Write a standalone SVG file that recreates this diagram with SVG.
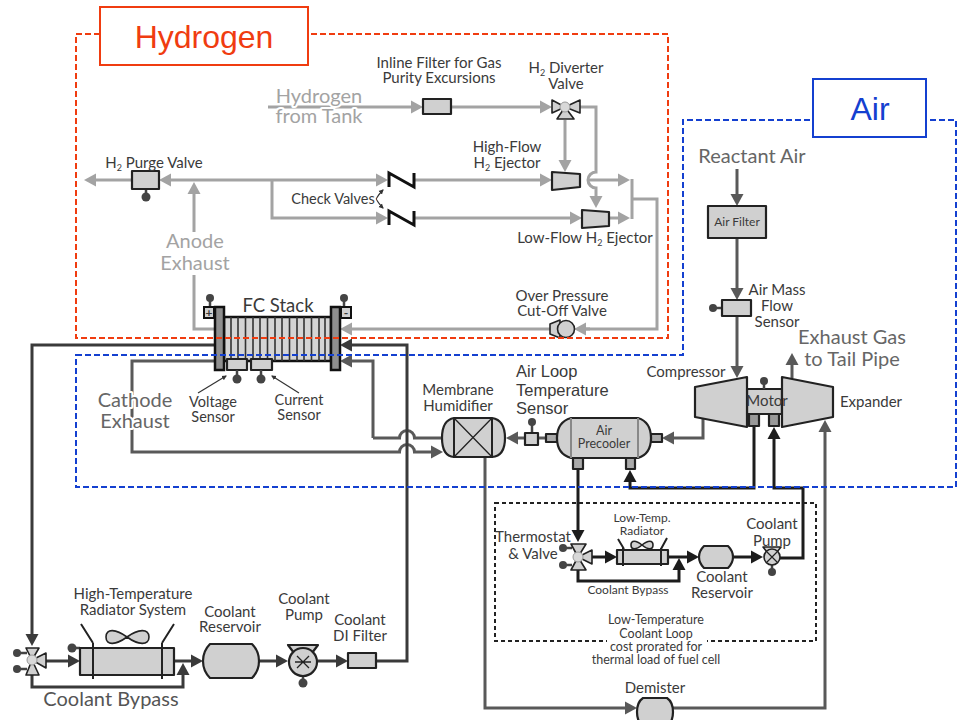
<svg xmlns="http://www.w3.org/2000/svg" width="961" height="720" viewBox="0 0 961 720">
<style>
text{font-family:"Lato","Open Sans",sans-serif;fill:#3a3a3a;font-size:15px;text-anchor:middle}
.big{font-size:20px;fill:#666}
.h2{fill:#a3a3a3}
.halo{paint-order:stroke;stroke:#fff;stroke-width:4px;stroke-linejoin:round}
.ar{font-family:"Liberation Sans",Arial,sans-serif}
.title{font-family:"Liberation Sans",Arial,sans-serif;font-size:32px}
.sm{font-size:12px}
.c{fill:none;stroke-linejoin:miter}
.g{stroke:#a3a3a3;stroke-width:3}
.a{stroke:#595959;stroke-width:3}
.k{stroke:#3a3a3a;stroke-width:3}
.b{stroke:#1c1c1c;stroke-width:3}
.n{fill:#d0d0d0;stroke:#222;stroke-width:2.2;stroke-linejoin:round}
.v{fill:#d0d0d0;stroke:#222;stroke-width:1.6;stroke-linejoin:round}
.vc{fill:#d8d8d8;stroke:#999;stroke-width:1}
.p{fill:#8f8f8f;stroke:#111;stroke-width:2.5}
.l{fill:none;stroke:#222;stroke-width:2}
.kn{fill:#444;stroke:none}
.st{stroke:#444;stroke-width:2.5}
</style>
<defs>
<marker id="mg" markerUnits="userSpaceOnUse" markerWidth="14" markerHeight="14" refX="8" refY="7" orient="auto"><path d="M0 0.5L12 7L0 13.5Z" fill="#a3a3a3"/></marker>
<marker id="ma" markerUnits="userSpaceOnUse" markerWidth="14" markerHeight="14" refX="8" refY="7" orient="auto"><path d="M0 0.5L12 7L0 13.5Z" fill="#595959"/></marker>
<marker id="mk" markerUnits="userSpaceOnUse" markerWidth="14" markerHeight="14" refX="8" refY="7" orient="auto"><path d="M0 0.5L12 7L0 13.5Z" fill="#3a3a3a"/></marker>
<marker id="mb" markerUnits="userSpaceOnUse" markerWidth="14" markerHeight="14" refX="8" refY="7" orient="auto"><path d="M0 0.5L12 7L0 13.5Z" fill="#1c1c1c"/></marker>
<marker id="ms" markerUnits="userSpaceOnUse" markerWidth="6" markerHeight="6" refX="4" refY="3" orient="auto"><path d="M0 0.5L5 3L0 5.5Z" fill="#333"/></marker>
</defs>

<g id="connectors">
<!-- hydrogen -->
<path class="c g" d="M268 107H419" marker-end="url(#mg)"/>
<path class="c g" d="M451 107H548" marker-end="url(#mg)"/>
<path class="c g" d="M580 107H596V172A8 8 0 0 0 596 188V204" marker-end="url(#mg)"/>
<path class="c g" d="M565 120V168" marker-end="url(#mg)"/>
<path class="c g" d="M588 180H626" marker-end="url(#mg)"/>
<path class="c g" d="M609 218H626" marker-end="url(#mg)"/>
<path class="c g" d="M632 179V219M632 199H657V329H578"/>
<path class="c g" d="M590 329H578" marker-end="url(#mg)"/>
<path class="c g" d="M550 329H344" marker-end="url(#mg)"/>
<path class="c g" d="M132 180H88" marker-end="url(#mg)"/>
<path class="c g" d="M272 180H163" marker-end="url(#mg)"/>
<path class="c g" d="M272 180H384" marker-end="url(#mg)"/>
<path class="c g" d="M194 232V186" marker-end="url(#mg)"/>
<path class="c g" d="M194 275V329H214"/>
<path class="c g" d="M272 180V218H384" marker-end="url(#mg)"/>
<path class="c g" d="M414 180H548" marker-end="url(#mg)"/>
<path class="c g" d="M414 218H578" marker-end="url(#mg)"/>
<!-- cathode / air -->
<path class="c a" d="M214 361H132V452H399.500A7.500 7.500 0 0 1 414.500 452H439" marker-end="url(#ma)"/>
<path class="c a" d="M373 438V361H344" marker-end="url(#ma)"/>
<path class="c a" d="M442 438H414.500A7.500 7.500 0 0 0 399.500 438H373"/>
<path class="c a" d="M737 169V202" marker-end="url(#ma)"/>
<path class="c a" d="M737 238V296" marker-end="url(#ma)"/>
<path class="c a" d="M737 316V374" marker-end="url(#ma)"/>
<path class="c a" d="M792 378V357" marker-end="url(#ma)"/>
<path class="c a" d="M703 419V438H666" marker-end="url(#ma)"/>
<path class="c a" d="M525 438H510" marker-end="url(#ma)"/>
<path class="c a" d="M538 438H546"/>
<path class="c a" d="M485 457V708H633" marker-end="url(#ma)"/>
<path class="c a" d="M673 708H825V424" marker-end="url(#ma)"/>
<!-- high-temp coolant -->
<path class="c k" d="M214 345H32V642" marker-end="url(#mk)"/>
<path class="c k" d="M376 661H407V345H344" marker-end="url(#mk)"/>
<path class="c k" d="M46 661H76" marker-end="url(#mk)"/>
<path class="c k" d="M174 661H199" marker-end="url(#mk)"/>
<path class="c k" d="M259 661H284" marker-end="url(#mk)"/>
<path class="c k" d="M318 661H344" marker-end="url(#mk)"/>
<path class="c k" d="M32 675V687H183V667" marker-end="url(#mk)"/>
<!-- low-temp coolant -->
<path class="c b" d="M578 469V538" marker-end="url(#mb)"/>
<path class="c b" d="M754 426V488H630V474" marker-end="url(#mb)"/>
<path class="c b" d="M780 558H803V488H774V431" marker-end="url(#mb)"/>
<path class="c b" d="M592 557H613" marker-end="url(#mb)"/>
<path class="c b" d="M668 557H695" marker-end="url(#mb)"/>
<path class="c b" d="M733 557H759" marker-end="url(#mb)"/>
<path class="c b" d="M578 570V581H679V562" marker-end="url(#mb)"/>
<!-- label leaders -->
<path d="M198 393L226 376" stroke="#333" stroke-width="1.200" fill="none" marker-end="url(#ms)"/>
<path d="M299 393L272 376" stroke="#333" stroke-width="1.200" fill="none" marker-end="url(#ms)"/>
<path d="M376 199Q379 194 383 190" stroke="#333" stroke-width="1.200" fill="none" marker-end="url(#ms)"/>
<path d="M376 199Q379 204 383 208" stroke="#333" stroke-width="1.200" fill="none" marker-end="url(#ms)"/>
</g>

<g id="hydrogen-labels">
<text class="big h2 halo" x="319" y="103">Hydrogen</text>
<text class="big h2 halo" x="319" y="123">from Tank</text>
<text class="big h2" x="195" y="248">Anode</text>
<text class="big h2" x="195" y="270">Exhaust</text>
<text class="halo" style="font-size:14.500px" x="333" y="204">Check Valves</text>
</g>

<g id="filter-inline"><rect class="n" x="423" y="99" width="28" height="15"/>
<text x="439" y="68">Inline Filter for Gas</text><text x="439" y="83">Purity Excursions</text></g>

<g id="h2-diverter-valve">
<path class="v" d="M552 100L565 107L552 113ZM580 100L565 107L580 113ZM565 107L574 119H557Z"/><circle class="vc" cx="565" cy="107" r="5"/>
<text x="566" y="73">H<tspan dy="3" font-size="9">2</tspan><tspan dy="-3"> Diverter</tspan></text><text x="566" y="89">Valve</text></g>

<g id="high-flow-ejector"><path class="n" d="M552 172L580 174V187L552 190Z"/>
<text x="507" y="152">High-Flow</text><text x="507" y="168">H<tspan dy="3" font-size="9">2</tspan><tspan dy="-3"> Ejector</tspan></text></g>

<g id="low-flow-ejector"><path class="n" d="M582 210L609 212V226L582 228Z"/>
<text x="585" y="243">Low-Flow H<tspan dy="3" font-size="9">2</tspan><tspan dy="-3"> Ejector</tspan></text></g>

<g id="check-valve-1"><path d="M414 173V187L389 173V187" fill="none" stroke="#111" stroke-width="3"/></g>
<g id="check-valve-2"><path d="M414 211V225L389 211V225" fill="none" stroke="#111" stroke-width="3"/></g>

<g id="h2-purge-valve"><path class="st" d="M146 189V196"/><circle class="kn" cx="146" cy="197" r="4.500"/><rect class="n" x="132" y="171" width="27" height="18"/>
<text x="154" y="168">H<tspan dy="3" font-size="9">2</tspan><tspan dy="-3"> Purge Valve</tspan></text></g>

<g id="over-pressure-valve"><path class="v" d="M550 324L560 320V338L550 334Z"/><circle class="v" cx="566" cy="329" r="8.500"/>
<text x="562" y="301">Over Pressure</text><text x="562" y="316">Cut-Off Valve</text></g>

<g id="fc-stack">
<path class="st" d="M210 298V307M344 298V307"/><circle class="kn" cx="210" cy="298" r="4"/><circle class="kn" cx="344" cy="298" r="4"/>
<rect x="204" y="307" width="10" height="11" fill="#d0d0d0" stroke="#111" stroke-width="2"/>
<rect x="341" y="307" width="10" height="11" fill="#d0d0d0" stroke="#111" stroke-width="2"/>
<text x="209" y="317" style="font-size:12px;font-weight:bold">+</text><text x="346" y="317" style="font-size:12px;font-weight:bold">-</text>
<rect x="224" y="317" width="107" height="44" fill="#d4d4d4" stroke="#111" stroke-width="2.500"/>
<path d="M231 317V361M238 317V361M245.500 317V361M253 317V361M260 317V361M267.500 317V361M275 317V361M282 317V361M289.500 317V361M297 317V361M304 317V361M311.500 317V361M319 317V361M325 317V361" stroke="#333" stroke-width="1.600"/>
<rect class="p" x="215" y="307" width="9" height="63"/>
<rect class="p" x="331" y="307" width="9" height="63"/>
<text x="278" y="312" style="font-size:18.500px">FC Stack</text>
</g>
<g id="voltage-sensor"><rect class="n" x="227" y="359" width="20" height="11"/><path class="st" d="M237 370V378"/><circle class="kn" cx="237" cy="379" r="4.500"/>
<text x="213" y="407" style="font-size:14.500px">Voltage</text><text x="213" y="422" style="font-size:14.500px">Sensor</text></g>
<g id="current-sensor"><rect class="n" x="251" y="359" width="21" height="11"/><path class="st" d="M261 370V378"/><circle class="kn" cx="261" cy="379" r="4.500"/>
<text x="299" y="405" style="font-size:14.500px">Current</text><text x="299" y="420" style="font-size:14.500px">Sensor</text></g>
<g id="cathode-exhaust"><text class="big halo" x="135" y="407">Cathode</text><text class="big halo" x="135" y="428">Exhaust</text></g>

<g id="membrane-humidifier"><path class="n" d="M454 418H492Q505 420 505 438Q505 456 492 457H454Q442 456 442 438Q442 420 454 418Z"/>
<path class="l" style="stroke-width:1.300" d="M454 418L492 457M492 418L454 457"/>
<path class="l" d="M454 418V457H492V418"/>
<text x="458" y="395">Membrane</text><text x="458" y="411">Humidifier</text></g>

<g id="air-temp-sensor"><path class="st" d="M532 423V433"/><circle class="kn" cx="532" cy="422" r="4"/><rect class="n" x="525" y="433" width="13" height="12"/>
<text class="ar" style="font-size:16.500px;text-anchor:start" x="516" y="377">Air Loop</text><text class="ar" style="font-size:16.500px;text-anchor:start" x="516" y="396">Temperature</text><text class="ar" style="font-size:16.500px;text-anchor:start" x="516" y="414">Sensor</text></g>

<g id="air-precooler">
<rect class="n" x="546" y="434" width="11" height="8" style="fill:#aaa"/><rect class="n" x="651" y="434" width="11" height="8" style="fill:#aaa"/>
<rect class="n" x="573" y="458" width="10" height="11" style="fill:#aaa"/><rect class="n" x="626" y="458" width="9" height="11" style="fill:#aaa"/>
<path class="n" d="M571 418H638Q651 422 651 438Q651 454 638 458H571Q557 454 557 438Q557 422 571 418Z"/>
<path d="M571 418V458M638 418V458" stroke="#888" stroke-width="2" fill="none"/>
<text class="sm" style="font-size:12.500px" x="604" y="435">Air</text><text class="sm" style="font-size:12.500px" x="604" y="448">Precooler</text></g>

<g id="air-filter"><rect class="n" x="708" y="206" width="58" height="32"/><text class="sm" x="737" y="226">Air Filter</text></g>
<g id="air-mass-flow-sensor"><path class="st" d="M713 308H722"/><circle class="kn" cx="713" cy="308" r="4"/><rect class="n" x="722" y="300" width="29" height="16"/>
<text x="777" y="295">Air Mass</text><text x="777" y="311">Flow</text><text x="777" y="327">Sensor</text></g>

<g id="motor-compressor">
<rect class="n" x="749" y="414" width="10" height="12" style="fill:#999"/><rect class="n" x="769" y="414" width="10" height="12" style="fill:#999"/>
<rect class="n" x="747" y="389" width="35" height="25"/>
<path class="st" d="M764 381V389"/><circle class="kn" cx="764" cy="381" r="4"/>
<path class="n" d="M695 387L747 377V427L695 417Z"/>
<path class="n" d="M782 377L833 387V417L782 427Z"/>
<text x="767" y="406">Motor</text>
<text x="686" y="377">Compressor</text><text x="871" y="407">Expander</text></g>

<g id="air-labels">
<text class="big" x="752" y="163">Reactant Air</text>
<text class="big" x="852" y="344">Exhaust Gas</text><text class="big" x="852" y="366">to Tail Pipe</text></g>

<g id="demister"><path class="n" d="M643 698H667Q673 702 673 712Q673 722 667 726H643Q637 722 637 712Q637 702 643 698Z"/><text x="655" y="693">Demister</text></g>

<g id="low-temp-loop">
<rect x="495" y="503" width="321" height="138" fill="none" stroke="#222" stroke-width="2" stroke-dasharray="4 3"/>
<rect x="607" y="636" width="100" height="10" fill="#fff"/>
<text x="656" y="624" style="font-size:12.500px">Low-Temperature</text><text x="656" y="638" style="font-size:12.500px">Coolant Loop</text><text x="656" y="651" style="font-size:12.500px">cost prorated for</text><text x="656" y="664" style="font-size:12.500px">thermal load of fuel cell</text>
</g>

<g id="thermostat-valve">
<path class="st" d="M563 548H572M563 565H572"/><circle class="kn" cx="563" cy="548" r="4"/><circle class="kn" cx="563" cy="565" r="4"/>
<path class="v" d="M571 544H586L578 557ZM571 570H586L578 557ZM592 550V564L578 557Z"/><circle class="vc" cx="578" cy="557" r="5"/>
<text x="533" y="542">Thermostat</text><text x="533" y="559">&amp; Valve</text></g>

<g id="low-temp-radiator">
<rect class="n" x="617" y="550" width="51" height="14"/>
<path class="l" d="M623 548V566M661 548V566M618 539L624 549M667 538L661 549"/>
<path class="v" d="M642 545C636 540 631 540 631 545C631 550 636 550 642 545C648 540 653 540 653 545C653 550 648 550 642 545Z"/>
<text class="sm" x="642" y="522">Low-Temp.</text><text class="sm" x="642" y="535">Radiator</text></g>

<g id="low-temp-reservoir"><path class="n" d="M704 546H728Q733 551 733 557Q733 563 728 568H704Q699 563 699 557Q699 551 704 546Z"/>
<text x="722" y="582">Coolant</text><text x="722" y="598">Reservoir</text></g>

<g id="low-temp-pump">
<path class="st" d="M772 565V572"/><circle class="kn" cx="772" cy="572" r="4"/>
<path class="v" d="M763 547H781L777 552H767Z"/>
<circle class="v" cx="772" cy="557" r="8"/><path class="l" d="M767 552L777 562M777 552L767 562" style="stroke-width:1.200"/>
<text x="772" y="529">Coolant</text><text x="772" y="546">Pump</text></g>
<text id="low-temp-bypass-label" class="sm" x="628" y="594">Coolant Bypass</text>

<g id="ht-valve">
<path class="st" d="M17 653H27M17 669H27"/><circle class="kn" cx="17" cy="653" r="4"/><circle class="kn" cx="17" cy="669" r="4"/>
<path class="v" d="M26 648H39L32 660ZM26 675H39L32 660ZM46 653V668L32 660Z"/><circle class="vc" cx="32" cy="660" r="5"/></g>

<g id="ht-radiator">
<path class="st" d="M72 648H80"/><circle class="kn" cx="72" cy="648" r="4.500"/>
<rect class="n" x="80" y="648" width="94" height="27"/>
<path class="l" d="M93 643V679M162 643V679M81 624L93 643M174 624L162 643"/>
<path class="v" d="M127 637C116 629 106 628 106 637C106 646 116 645 127 637C138 629 149 628 149 637C149 646 138 645 127 637Z"/>
<text x="133" y="599">High-Temperature</text><text x="133" y="615">Radiator System</text></g>

<g id="ht-reservoir"><path class="n" d="M210 644H252Q259 651 259 661Q259 671 252 678H210Q203 671 203 661Q203 651 210 644Z"/>
<text x="230" y="617">Coolant</text><text x="230" y="632">Reservoir</text></g>

<g id="ht-pump">
<path class="st" d="M303 676V683"/><circle class="kn" cx="303" cy="683" r="4.500"/>
<path class="n" d="M288 645H318L312 653H294Z"/>
<circle class="n" cx="303" cy="662" r="14"/><path class="l" d="M295 662H311M297 656L309 668M309 656L297 668" style="stroke-width:1.300"/>
<text x="304" y="604">Coolant</text><text x="304" y="620">Pump</text></g>

<g id="di-filter"><rect class="n" x="348" y="653" width="28" height="15"/>
<text x="360" y="625">Coolant</text><text x="360" y="641">DI Filter</text></g>

<text id="ht-bypass-label" class="big" style="fill:#555" x="111" y="706">Coolant Bypass</text>

<g id="hydrogen-zone">
<path d="M100 34H76V338H668V34H308" fill="none" stroke="#f03c10" stroke-width="2" stroke-dasharray="6 3"/>
<rect x="100" y="7" width="208" height="58" fill="#fff" stroke="#f03c10" stroke-width="2"/>
<text class="title" style="fill:#f03c10" x="204" y="48">Hydrogen</text>
</g>
<g id="air-zone">
<path d="M76 355H683V120H956V487H76Z" fill="none" stroke="#1440d0" stroke-width="2" stroke-dasharray="6 3"/>
<rect x="813" y="79" width="113" height="58" fill="#fff" stroke="#1440d0" stroke-width="2"/>
<text class="title" style="fill:#1440d0" x="870" y="120">Air</text>
</g>
</svg>
